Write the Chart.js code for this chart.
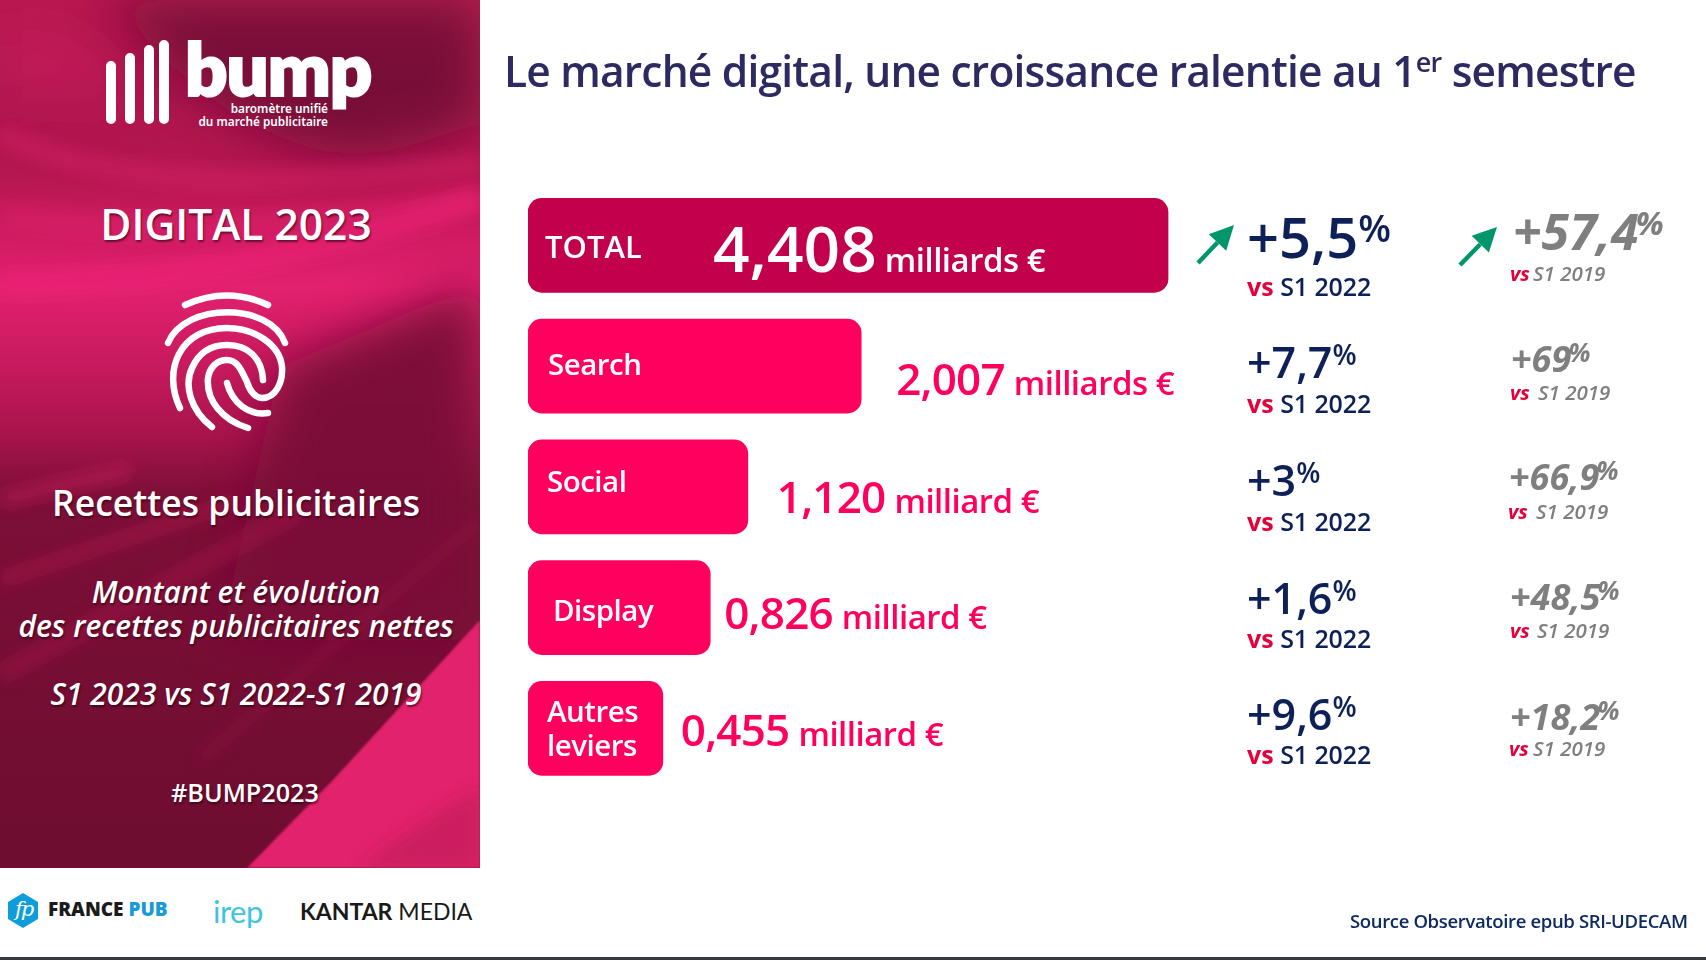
<!DOCTYPE html>
<html lang="fr">
<head>
<meta charset="utf-8">
<title>BUMP Digital 2023</title>
<script src="https://cdn.jsdelivr.net/npm/chart.js@4/dist/chart.umd.min.js"></script>
<style>
  html, body { margin: 0; padding: 0; background: #fff; }
  body { width: 1706px; height: 960px; position: relative; overflow: hidden; font-family: "Open Sans", sans-serif; }
  #panel { position: absolute; left: 0; top: 0; width: 480px; height: 868px; overflow: hidden; }
  #panel svg { position: absolute; left: 0; top: 0; }
  .t { position: absolute; white-space: nowrap; }
  .side { left: 0; width: 472px; text-align: center; color: #fff; text-shadow: 1px 2px 2px rgba(40,0,15,.6); font-weight: 600; }
  .it { font-style: italic; font-size: 30px; }
  #revenueChart { position: absolute; left: 0; top: 0; }
  #title { left: 504px; top: 42px; font-size: 42.5px; font-weight: 600; color: #2c2a60; letter-spacing: -.8px; }
  #title sup { font-size: 27px; line-height: 0; vertical-align: 15px; }
  #source { left: 1350px; top: 908px; font-size: 18.5px; font-weight: 600; color: #0e2a63; letter-spacing: -.35px; }
  #botline { position: absolute; left: 0; top: 957px; width: 1706px; height: 3px; background: #36393c; }
</style>
</head>
<body>
<div id="panel">
  <svg width="480" height="868" viewBox="0 0 480 868">
    <defs>
      <linearGradient id="base" x1="0" y1="0" x2="0" y2="1">
        <stop offset="0" stop-color="#b9194f"/>
        <stop offset=".1" stop-color="#ab164c"/>
        <stop offset=".2" stop-color="#b5174f"/>
        <stop offset=".28" stop-color="#d21c64"/>
        <stop offset=".33" stop-color="#e3216f"/>
        <stop offset=".42" stop-color="#c81a5e"/>
        <stop offset=".5" stop-color="#a8144c"/>
        <stop offset=".57" stop-color="#7c0f37"/>
        <stop offset="1" stop-color="#6e0d30"/>
      </linearGradient>
      <filter id="b30" filterUnits="userSpaceOnUse" x="-200" y="-200" width="900" height="1300"><feGaussianBlur stdDeviation="24"/></filter>
      <filter id="b10" filterUnits="userSpaceOnUse" x="-200" y="-200" width="900" height="1300"><feGaussianBlur stdDeviation="8"/></filter>
      <filter id="b2" filterUnits="userSpaceOnUse" x="-200" y="-200" width="900" height="1300"><feGaussianBlur stdDeviation="1"/></filter>
    </defs>
    <rect width="480" height="868" fill="url(#base)"/>
    <path d="M100 0C170 60 220 125 320 150C390 165 440 130 480 125V0Z" fill="#6f0c34" opacity=".85" filter="url(#b30)"/>
    <path d="M0 30C70 20 110 50 130 110C100 100 40 90 0 110Z" fill="#cf1c5e" opacity=".6" filter="url(#b30)"/>
    <path d="M0 135C80 170 180 195 480 165" stroke="#d8206a" stroke-width="18" fill="none" opacity=".5" filter="url(#b10)"/>
    <path d="M0 215C150 235 320 230 480 195" stroke="#e0216c" stroke-width="20" fill="none" opacity=".5" filter="url(#b10)"/>
    <path d="M0 285C160 280 300 260 480 200" stroke="#ee2477" stroke-width="22" fill="none" opacity=".65" filter="url(#b10)"/>
    <path d="M280 367L480 283V640L220 640Z" fill="#7a0e38" opacity=".95" filter="url(#b30)"/>
    <path d="M0 500L130 470" stroke="#c81c5c" stroke-width="12" opacity=".7" filter="url(#b10)"/>
    <path d="M0 580L240 500" stroke="#b5174f" stroke-width="10" opacity=".7" filter="url(#b10)"/>
    <path d="M0 675L300 510" stroke="#a8144a" stroke-width="14" opacity=".6" filter="url(#b10)"/>
    <path d="M200 760L480 520" stroke="#a8144a" stroke-width="7" opacity=".45" filter="url(#b10)"/>
    <path d="M247 868L333 780L400 707L480 620V868Z" fill="#e2246c" filter="url(#b2)"/>
    <path d="M360 868C420 820 460 800 480 790V868Z" fill="#c21c5a" opacity=".7" filter="url(#b10)"/>
    <g stroke="#fff" stroke-linecap="round" fill="none">
      <path d="M111 66V119M130 58V119M149 50V119M164 45V119" stroke-width="10"/>
      <path stroke-width="6.5" d="M185 305Q227 286 268 305"/>
      <path stroke-width="6.5" d="M168 343C185 302 270 302 285 343"/>
      <path stroke-width="6.5" d="M212 427C190 410 184 385 192 368C200 350 214 345 227 345C248 345 262 358 263 380"/>
      <path stroke-width="6.5" d="M248 428C222 420 206 400 208 378C210 366 218 360 227 360C238 360 242 372 247 382C250 392 256 398 262 398C276 398 283 382 282 367C280 345 255 328 227 328C180 328 162 370 180 408"/>
      <path stroke-width="6.5" d="M227 383C232 402 248 416 268 413"/>
    </g>
  </svg>
  <div class="t" style="left:185px;top:23px;font:800 74px Lato,sans-serif;color:#fff;letter-spacing:-1px;-webkit-text-stroke:2px #fff">bump</div>
  <div class="t" style="left:180px;top:102px;width:148px;text-align:right;font:600 11.8px/12.5px 'Noto Sans',sans-serif;color:#fff">baromètre unifié<br>du marché publicitaire</div>
  <div class="t side" style="top:195px;font-size:42.5px">DIGITAL 2023</div>
  <div class="t side" style="top:478px;font-size:35.5px">Recettes publicitaires</div>
  <div class="t side it" style="top:571px">Montant et évolution</div>
  <div class="t side it" style="top:605px">des recettes publicitaires nettes</div>
  <div class="t side it" style="top:673px">S1 2023 vs S1 2022-S1 2019</div>
  <div class="t side" style="top:775px;left:9px;font-size:25.2px">#BUMP2023</div>
</div>

<svg style="position:absolute;left:0;top:868px" width="520" height="88" viewBox="0 868 520 88">
  <polygon points="23,893 38,902 38,919 23,928 8,919 8,902" fill="#0e9dd9"/>
</svg>
<div class="t" style="left:15px;top:897px;font:italic 400 21px 'DejaVu Serif',serif;color:#fff;letter-spacing:-2px">fp</div>
<div class="t" style="left:48px;top:896px;font:800 19px 'Open Sans',sans-serif;color:#1b1b1b">FRANCE <span style="color:#169bd8">PUB</span></div>
<div class="t" style="left:213px;top:892px;font:400 31px Lato,sans-serif;color:#3fc3e0;letter-spacing:-.5px">irep</div>
<div class="t" style="left:300px;top:897px;font:400 23px Lato,sans-serif;color:#1a1a1a"><b style="font-weight:700">KANTAR</b> MEDIA</div>

<canvas id="revenueChart" width="1706" height="960"></canvas>

<div id="title" class="t">Le marché digital, une croissance ralentie au 1<sup>er</sup> semestre</div>
<div id="source" class="t">Source Observatoire epub SRI-UDECAM</div>
<div id="botline"></div>

<script>
const categories = ['TOTAL', 'Search', 'Social', 'Display', ['Autres', 'leviers']];
const amounts = [4.408, 2.007, 1.120, 0.826, 0.455];
const amountLabels = ['4,408', '2,007', '1,120', '0,826', '0,455'];
const units = ['milliards €', 'milliards €', 'milliard €', 'milliard €', 'milliard €'];
const growthVs2022 = ['+5,5', '+7,7', '+3', '+1,6', '+9,6'];
const growthVs2019 = ['+57,4', '+69', '+66,9', '+48,5', '+18,2'];
const barColors = ['#c2004b', '#ff005f', '#ff005f', '#ff005f', '#ff005f'];

// bars in the slide are not to scale, they all start with a stub: axis starts below zero
const axisMin = -0.6;
const axisMax = 5;

const FONT = '"Open Sans", sans-serif';
const NAVY = '#0e2058';
const RED = '#e4003a';
const PINK = '#ff005f';
const GRAY = '#7f7f7f';
const GREEN = '#00966c';

// text layout for each row, in page pixels
const nameX = [545, 548, 547, 553, 547];
const nameY = [258, 375, 492, 621, 756];
const amountGap = [0, 35, 29, 14, 18];
const amountY = [272, 395, 513, 629, 746];
const growthY = [258, 378, 496, 614, 730];
const vsY = [296, 413, 531, 648, 764];
const growth19X = [1513, 1511, 1509, 1510, 1510];
const growth19Y = [250, 372, 490, 610, 730];
const vs19X = [1510, 1510, 1508, 1510, 1509];
const s19X = [1533, 1538, 1536, 1537, 1533];
const vs19Y = [281, 400, 519, 638, 756];

function text(ctx, str, x, y, font, color, spacing) {
    ctx.font = font;
    ctx.letterSpacing = (spacing || 0) + 'px';
    ctx.fillStyle = color;
    ctx.fillText(str, x, y);
    return x + ctx.measureText(str).width;
}

function arrow(ctx, x0, y0, x1, y1) {
    const a = Math.atan2(y1 - y0, x1 - x0);
    const bx = x1 - 24 * Math.cos(a), by = y1 - 24 * Math.sin(a);
    ctx.strokeStyle = GREEN;
    ctx.fillStyle = GREEN;
    ctx.lineWidth = 4.5;
    ctx.beginPath();
    ctx.moveTo(x0, y0);
    ctx.lineTo(bx, by);
    ctx.stroke();
    ctx.beginPath();
    ctx.moveTo(x1, y1);
    ctx.lineTo(bx + 12 * Math.sin(a), by - 12 * Math.cos(a));
    ctx.lineTo(bx - 12 * Math.sin(a), by + 12 * Math.cos(a));
    ctx.closePath();
    ctx.fill();
}

const rowLabels = {
    id: 'rowLabels',
    afterDatasetsDraw(chart) {
        const ctx = chart.ctx;
        const bars = chart.getDatasetMeta(0).data;
        ctx.save();
        ctx.textBaseline = 'alphabetic';
        ctx.textAlign = 'left';
        categories.forEach(function (cat, i) {
            const big = i === 0;
            // category name, inside the bar
            if (Array.isArray(cat)) {
                text(ctx, cat[0], nameX[i], nameY[i] - 34, '600 29.5px ' + FONT, '#fff', -0.5);
                text(ctx, cat[1], nameX[i], nameY[i], '600 29.5px ' + FONT, '#fff', -0.5);
            } else {
                text(ctx, cat, nameX[i], nameY[i], '600 ' + (big ? 31 : 29.5) + 'px ' + FONT, '#fff', big ? 0 : -0.5);
            }
            // amount
            const ax = big ? 713 : bars[i].x + amountGap[i];
            const end = text(ctx, amountLabels[i], ax, amountY[i], '600 ' + (big ? 64 : 44) + 'px ' + FONT, big ? '#fff' : PINK, big ? 0 : -0.8);
            text(ctx, units[i], end + (big ? 8 : 9), amountY[i], '600 33px ' + FONT, big ? '#fff' : PINK, -0.5);
            // vs S1 2022
            const e1 = text(ctx, growthVs2022[i], 1247, growthY[i], '600 ' + (big ? 56 : 43) + 'px ' + FONT, NAVY);
            text(ctx, '%', e1, growthY[i] - (big ? 16 : 13), '600 ' + (big ? 38 : 28) + 'px ' + FONT, NAVY);
            const e2 = text(ctx, 'vs ', 1247, vsY[i], '700 25px ' + FONT, RED);
            text(ctx, 'S1 2022', e2, vsY[i], '600 25px ' + FONT, NAVY, -0.1);
            // vs S1 2019
            const e3 = text(ctx, growthVs2019[i], growth19X[i], growth19Y[i], 'italic 700 ' + (big ? 50 : 36) + 'px ' + FONT, GRAY);
            text(ctx, '%', e3 - 3, growth19Y[i] - (big ? 15 : 10), 'italic 700 ' + (big ? 33 : 26) + 'px ' + FONT, GRAY);
            text(ctx, 'vs', vs19X[i], vs19Y[i], 'italic 700 20px ' + FONT, RED);
            text(ctx, 'S1 2019', s19X[i], vs19Y[i], 'italic 600 20.5px ' + FONT, GRAY);
        });
        arrow(ctx, 1198, 263, 1234, 225);
        arrow(ctx, 1460, 265, 1497, 227);
        ctx.restore();
    }
};

const ctx = document.getElementById('revenueChart').getContext('2d');
const chart = new Chart(ctx, {
    type: 'bar',
    data: {
        labels: categories,
        datasets: [{
            data: amounts,
            base: axisMin,
            backgroundColor: barColors,
            barThickness: 94,
            borderRadius: 14,
            borderSkipped: false
        }]
    },
    options: {
        indexAxis: 'y',
        responsive: false,
        animation: false,
        layout: { padding: { left: 528, right: 462.3, top: 185, bottom: 171.25 } },
        plugins: { legend: { display: false }, tooltip: { enabled: false } },
        scales: {
            x: { display: false, min: axisMin, max: axisMax },
            y: { display: false }
        }
    },
    plugins: [rowLabels]
});
</script>
</body>
</html>
